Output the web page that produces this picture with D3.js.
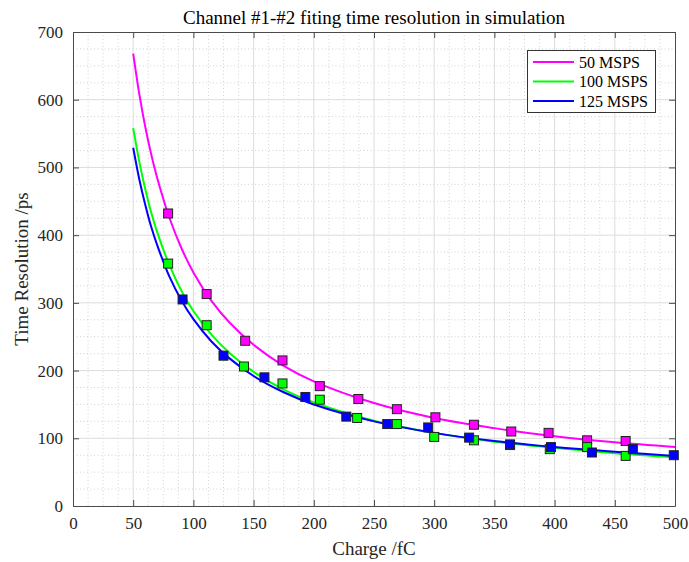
<!DOCTYPE html>
<html>
<head>
<meta charset="utf-8">
<script src="https://cdn.jsdelivr.net/npm/d3@7"></script>
<style>
  html, body { margin: 0; padding: 0; background: #fff; }
  svg text { font-family: "Liberation Serif", "Times New Roman", serif !important; fill: #262626; }
</style>
</head>
<body>
<svg id="chart" width="689" height="562"></svg>
<script>
// Fitted curves, sampled along charge (fC)
const curveCharge = [50, 55, 60, 65, 70, 80, 90, 100, 115, 130, 150, 175, 200, 250, 300, 350, 400, 450, 500];
const fit50  = [668, 609, 560, 519, 484, 426, 381, 345, 303, 271, 238, 207, 184, 152, 130, 115, 103, 94, 87];
const fit100 = [558, 509, 468, 433, 404, 356, 318, 288, 253, 226, 198, 172, 153, 126, 108, 95, 86, 78, 72];
const fit125 = [529, 483, 445, 412, 385, 339, 304, 276, 243, 218, 192, 168, 150, 125, 108, 96, 87, 80, 74];

// Simulated points
const charge50  = [79, 111, 143, 174, 205, 237, 269, 301, 333, 364, 395, 427, 459];
const res50     = [432, 313, 244, 215, 177, 158, 143, 131, 120, 110, 108, 97, 96];
const charge100 = [79, 111, 142, 174, 205, 236, 269, 300, 333, 363, 396, 427, 459];
const res100    = [358, 267, 206, 181, 157, 130, 121, 102, 97, 90, 84, 87, 74];
const charge125 = [91, 125, 159, 193, 227, 261, 295, 329, 363, 397, 431, 465, 499];
const res125    = [305, 222, 190, 161, 132, 121, 116, 101, 91, 87, 79, 84, 75];

const seriesNames = ["50 MSPS", "100 MSPS", "125 MSPS"];
const seriesColors = ["#ff00ff", "#00ff00", "#0000ff"];

const xTicks = [0, 50, 100, 150, 200, 250, 300, 350, 400, 450, 500];
const yTicks = [0, 100, 200, 300, 400, 500, 600, 700];

const titleText = "Channel #1-#2 fiting time resolution in simulation";
const xLabel = "Charge /fC";
const yLabel = "Time Resolution /ps";

const serif = '"Liberation Serif", "Times New Roman", serif';
const svg = d3.select("#chart");
const L = 73, R = 675, T = 32, B = 506;

const x = d3.scaleLinear().domain([0, 500]).range([L, R]);
const y = d3.scaleLinear().domain([0, 700]).range([B, T]);

// Minor grid (dotted)
const xMinor = d3.range(0, 500.01, 12.5).filter(v => v % 50 !== 0);
const yMinor = d3.range(0, 700.01, 25).filter(v => v % 100 !== 0);
const grid = svg.append("g");
grid.selectAll(".xm").data(xMinor).join("line")
  .attr("x1", d => x(d)).attr("x2", d => x(d)).attr("y1", T).attr("y2", B)
  .attr("stroke", "#c8c8c8").attr("stroke-width", 0.8).attr("stroke-dasharray", "1,2.5");
grid.selectAll(".ym").data(yMinor).join("line")
  .attr("x1", L).attr("x2", R).attr("y1", d => y(d)).attr("y2", d => y(d))
  .attr("stroke", "#c8c8c8").attr("stroke-width", 0.8).attr("stroke-dasharray", "1,2.5");
// Major grid
grid.selectAll(".xM").data(xTicks.slice(1, -1)).join("line")
  .attr("x1", d => x(d)).attr("x2", d => x(d)).attr("y1", T).attr("y2", B)
  .attr("stroke", "#dcdcdc").attr("stroke-width", 1);
grid.selectAll(".yM").data(yTicks.slice(1, -1)).join("line")
  .attr("x1", L).attr("x2", R).attr("y1", d => y(d)).attr("y2", d => y(d))
  .attr("stroke", "#dcdcdc").attr("stroke-width", 1);

// Axes with inward ticks, box on all four sides
const tickLen = 6;
const axB = svg.append("g").attr("transform", `translate(0,${B})`)
  .call(d3.axisBottom(x).tickValues(xTicks).tickSizeInner(-tickLen).tickSizeOuter(0).tickPadding(11));
const axL = svg.append("g").attr("transform", `translate(${L},0)`)
  .call(d3.axisLeft(y).tickValues(yTicks).tickSizeInner(-tickLen).tickSizeOuter(0).tickPadding(10));
const axT = svg.append("g").attr("transform", `translate(0,${T})`)
  .call(d3.axisTop(x).tickValues(xTicks).tickSizeInner(-tickLen).tickSizeOuter(0).tickFormat(""));
const axR = svg.append("g").attr("transform", `translate(${R},0)`)
  .call(d3.axisRight(y).tickValues(yTicks).tickSizeInner(-tickLen).tickSizeOuter(0).tickFormat(""));
[axB, axL, axT, axR].forEach(a => {
  a.attr("font-family", serif).attr("font-size", 17);
  a.select(".domain").attr("stroke", "#4a4a4a").attr("stroke-width", 1);
  a.selectAll(".tick line").attr("stroke", "#4a4a4a").attr("stroke-width", 1);
  a.selectAll(".tick text").style("font-size", "17px").style("font-family", serif).style("fill", "#262626");
});

// Fitted curves
const fits = [fit50, fit100, fit125];
const line = d3.line().x(d => x(d[0])).y(d => y(d[1])).curve(d3.curveCatmullRom.alpha(0.5));
fits.forEach((vals, i) => {
  svg.append("path")
    .datum(curveCharge.map((c, k) => [c, vals[k]]))
    .attr("d", line).attr("fill", "none")
    .attr("stroke", seriesColors[i]).attr("stroke-width", 2);
});

// Square markers
const pts = [[charge50, res50], [charge100, res100], [charge125, res125]];
const ms = 9;
pts.forEach(([cx, cy], i) => {
  svg.append("g").selectAll("rect")
    .data(cx.map((c, k) => [c, cy[k]]))
    .join("rect")
    .attr("x", d => x(d[0]) - ms / 2).attr("y", d => y(d[1]) - ms / 2)
    .attr("width", ms).attr("height", ms)
    .attr("fill", seriesColors[i]).attr("stroke", "#222").attr("stroke-width", 1);
});

// Legend
const lg = svg.append("g");
lg.append("rect").attr("x", 527.5).attr("y", 50.5).attr("width", 128).attr("height", 62)
  .attr("fill", "#fff").attr("stroke", "#333").attr("stroke-width", 1);
seriesNames.forEach((name, i) => {
  const yy = 62 + i * 19.5;
  lg.append("line").attr("x1", 533).attr("x2", 574).attr("y1", yy).attr("y2", yy)
    .attr("stroke", seriesColors[i]).attr("stroke-width", 2);
  lg.append("text").attr("x", 579).attr("y", yy + 5.5).style("font-size", "16px").style("fill", "#000").text(name);
});

// Title and axis labels
svg.append("text").attr("x", (L + R) / 2).attr("y", 24).attr("text-anchor", "middle")
  .style("font-size", "19px").style("fill", "#000").text(titleText);
svg.append("text").attr("x", (L + R) / 2).attr("y", 555).attr("text-anchor", "middle")
  .style("font-size", "19px").text(xLabel);
svg.append("text").attr("transform", `translate(28,${(T + B) / 2}) rotate(-90)`)
  .attr("text-anchor", "middle").style("font-size", "19px").text(yLabel);
</script>
</body>
</html>
